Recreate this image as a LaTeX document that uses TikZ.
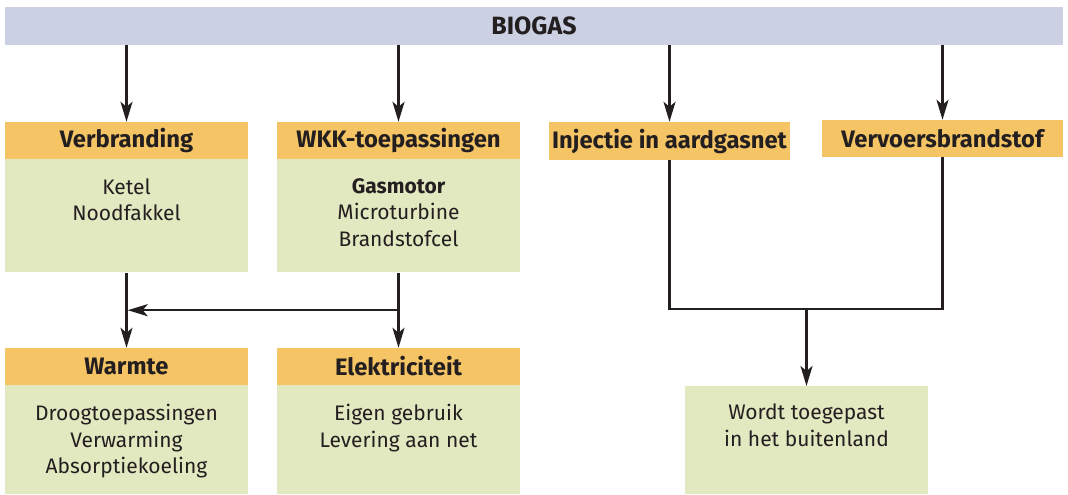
\documentclass[tikz,border=0pt]{standalone}
\usepackage{fontspec}
\setmainfont{Fira Sans}
\usetikzlibrary{positioning,arrows.meta}
\definecolor{gasblue}{HTML}{CBD0E3}
\definecolor{headorange}{HTML}{F5C565}
\definecolor{bodygreen}{HTML}{E2E8C0}
\definecolor{inkdark}{HTML}{231F20}

\begin{document}
\begin{tikzpicture}[x=1pt,y=-1pt,
   headbox/.style={fill=headorange, minimum width=243pt, minimum height=37pt, inner sep=0pt,
      text=inkdark, font=\fontsize{23.8}{26}\selectfont\bfseries},
   bodybox/.style={fill=bodygreen, minimum width=243pt, inner sep=0pt, anchor=north},
   bodytext/.style={align=center, inner sep=0pt, text=inkdark, font=\fontsize{21}{26.5}\selectfont},
   flow/.style={draw=inkdark, line width=2.4pt},
   flowarrow/.style={flow, -{Stealth[length=20pt,width=12pt,inset=5pt]}}]
   \path[use as bounding box] (0,0) rectangle (1068,495);

   \node[fill=gasblue, minimum width=1058pt, minimum height=38pt, inner sep=0pt, text=inkdark,
      font=\fontsize{25}{26}\selectfont\bfseries] (biogas) at (534,26) {BIOGAS};

   \node[headbox] (verbr) at (126.5,140.5) {Verbranding};
   \node[bodybox, minimum height=113pt, below=0pt of verbr] (verbrbody) {};
   \node[bodytext, below=19pt of verbrbody.north] (verbrtext) {Ketel\\Noodfakkel};

   \node[headbox] (wkk) at (398.5,140.5) {WKK-toepassingen};
   \node[bodybox, minimum height=113pt, below=0pt of wkk] (wkkbody) {};
   \node[bodytext, below=19pt of wkkbody.north] (wkktext) {{\bfseries Gasmotor}\\Microturbine\\Brandstofcel};

   \node[headbox, minimum width=241pt, minimum height=38pt] (injectie) at (669.5,141) {Injectie in aardgasnet};
   \node[headbox, minimum width=241pt] (verv) at (942.5,138.5) {Vervoersbrandstof};

   \node[headbox] (warmte) at (126.5,366.5) {Warmte};
   \node[bodybox, minimum height=109pt, below=0pt of warmte] (warmtebody) {};
   \node[bodytext, below=19pt of warmtebody.north] (warmtetext) {Droogtoepassingen\\Verwarming\\Absorptiekoeling};

   \node[headbox] (elek) at (398.5,366.5) {Elektriciteit};
   \node[bodybox, minimum height=109pt, below=0pt of elek] (elekbody) {};
   \node[bodytext, below=19pt of elekbody.north] (elektext) {Eigen gebruik\\Levering aan net};

   \node[bodybox, minimum height=108pt] (buitenland) at (806.5,386) {};
   \node[bodytext, below=18pt of buitenland.north] (buitenlandtext) {Wordt toegepast\\in het buitenland};

   \foreach \n in {verbr,wkk,injectie,verv}
   \draw[flowarrow] (biogas.south -| \n.north) -- (\n.north);

   \draw[flowarrow] (verbrbody.south) -- (warmte.north);
   \draw[flowarrow] (wkkbody.south) -- (elek.north);
   \path (wkkbody.south) -- (elek.north) coordinate[midway] (wkksplit);
   \draw[flowarrow, shorten >=1.2pt] (wkksplit) -- (wkksplit -| verbrbody.south);

   \coordinate (merge) at (806.5,309);
   \draw[flow] (injectie.south) |- (merge) -| (verv.south);
   \draw[flowarrow] (merge) -- (buitenland.north);

\end{tikzpicture}
\end{document}
